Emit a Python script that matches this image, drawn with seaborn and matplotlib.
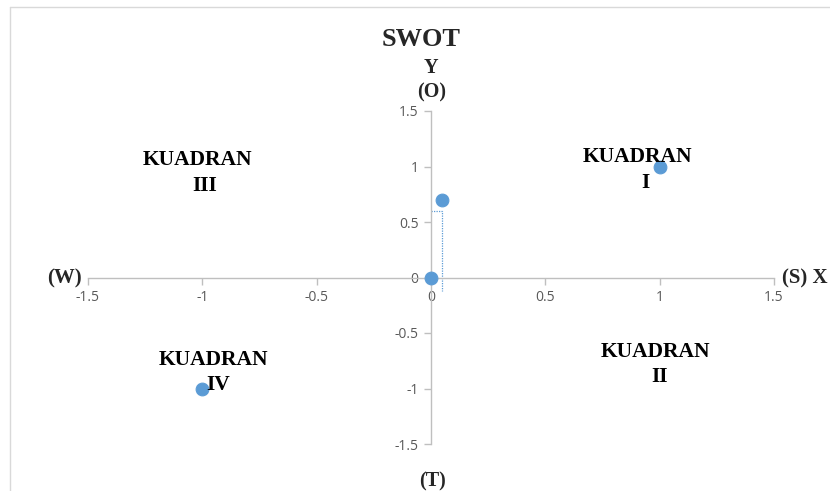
import matplotlib
matplotlib.use("Agg")
import matplotlib.pyplot as plt
import seaborn as sns
import pandas as pd

# SWOT points
x_vals = [0.0, 0.048, 1.0, -1.0]
y_vals = [0.0, 0.7, 1.0, -1.0]

# dotted guide line
guide_x = [0.0, 0.048, 0.048]
guide_y = [0.6, 0.6, -0.12]

ticks = [-1.5, -1, -0.5, 0, 0.5, 1, 1.5]
tick_labels = ["-1.5", "-1", "-0.5", "0", "0.5", "1", "1.5"]

quadrants = [
    ("KUADRAN", 0.905, 1.09), ("I", 0.936, 0.85),
    ("KUADRAN", -1.02, 1.06), ("III", -0.99, 0.82),
    ("KUADRAN", -0.95, -0.74), ("IV", -0.93, -0.97),
    ("KUADRAN", 0.98, -0.67), ("II", 1.0, -0.90),
]

df = pd.DataFrame({"x": x_vals, "y": y_vals})

sns.set_style("white")
plt.rcParams["font.family"] = ["Liberation Serif", "DejaVu Serif"]

fig = plt.figure(figsize=(8.3, 4.91), dpi=100)
ax = fig.add_axes([88 / 830, 1 - 444 / 491, 686 / 830, 333 / 491])

blue = "#5B9BD5"
axis_col = "#BFBFBF"
sns.scatterplot(data=df, x="x", y="y", ax=ax, color=blue, s=85, edgecolor=blue, zorder=3)
ax.plot(guide_x, guide_y, color=blue, linestyle=(0, (1, 1)), linewidth=0.9, zorder=2)

ax.set_xlim(-1.5, 1.5)
ax.set_ylim(-1.5, 1.5)
ax.set_xlabel("")
ax.set_ylabel("")

for side in ["top", "right"]:
    ax.spines[side].set_visible(False)
ax.spines["left"].set_position(("data", 0))
ax.spines["bottom"].set_position(("data", 0))
for side in ["left", "bottom"]:
    ax.spines[side].set_color(axis_col)
    ax.spines[side].set_linewidth(1.0)

ax.set_xticks(ticks)
ax.set_xticklabels(tick_labels)
ax.set_yticks(ticks)
ax.set_yticklabels(tick_labels)
ax.tick_params(axis="both", direction="out", length=5, width=1.0, color=axis_col,
               labelcolor="#595959", labelsize=10, pad=4, left=True, bottom=True)
for lab in ax.get_xticklabels() + ax.get_yticklabels():
    lab.set_family(["Open Sans", "DejaVu Sans"])

for label, qx, qy in quadrants:
    ax.text(qx, qy, label, ha="center", va="center", fontsize=15.5, fontweight="bold", color="black")

fig.text(421 / 830, 1 - 40 / 491, "SWOT", ha="center", va="center", fontsize=19, fontweight="bold")
fig.text(431 / 830, 1 - 68 / 491, "Y", ha="center", va="center", fontsize=14.5, fontweight="bold")
fig.text(432 / 830, 1 - 92 / 491, "(O)", ha="center", va="center", fontsize=14.5, fontweight="bold")
fig.text(64 / 830, 1 - 278 / 491, "(W)", ha="center", va="center", fontsize=15, fontweight="bold")
fig.text(805 / 830, 1 - 278 / 491, "(S) X", ha="center", va="center", fontsize=15, fontweight="bold")
fig.text(432 / 830, 1 - 481 / 491, "(T)", ha="center", va="center", fontsize=14.5, fontweight="bold")

# chart border (top-left corner visible)
fig.add_artist(plt.Line2D([10 / 830, 10 / 830], [0, 1 - 7 / 491], color="#D9D9D9", linewidth=1.0))
fig.add_artist(plt.Line2D([10 / 830, 1], [1 - 7 / 491, 1 - 7 / 491], color="#D9D9D9", linewidth=1.0))

fig.savefig("out.png", dpi=100)
